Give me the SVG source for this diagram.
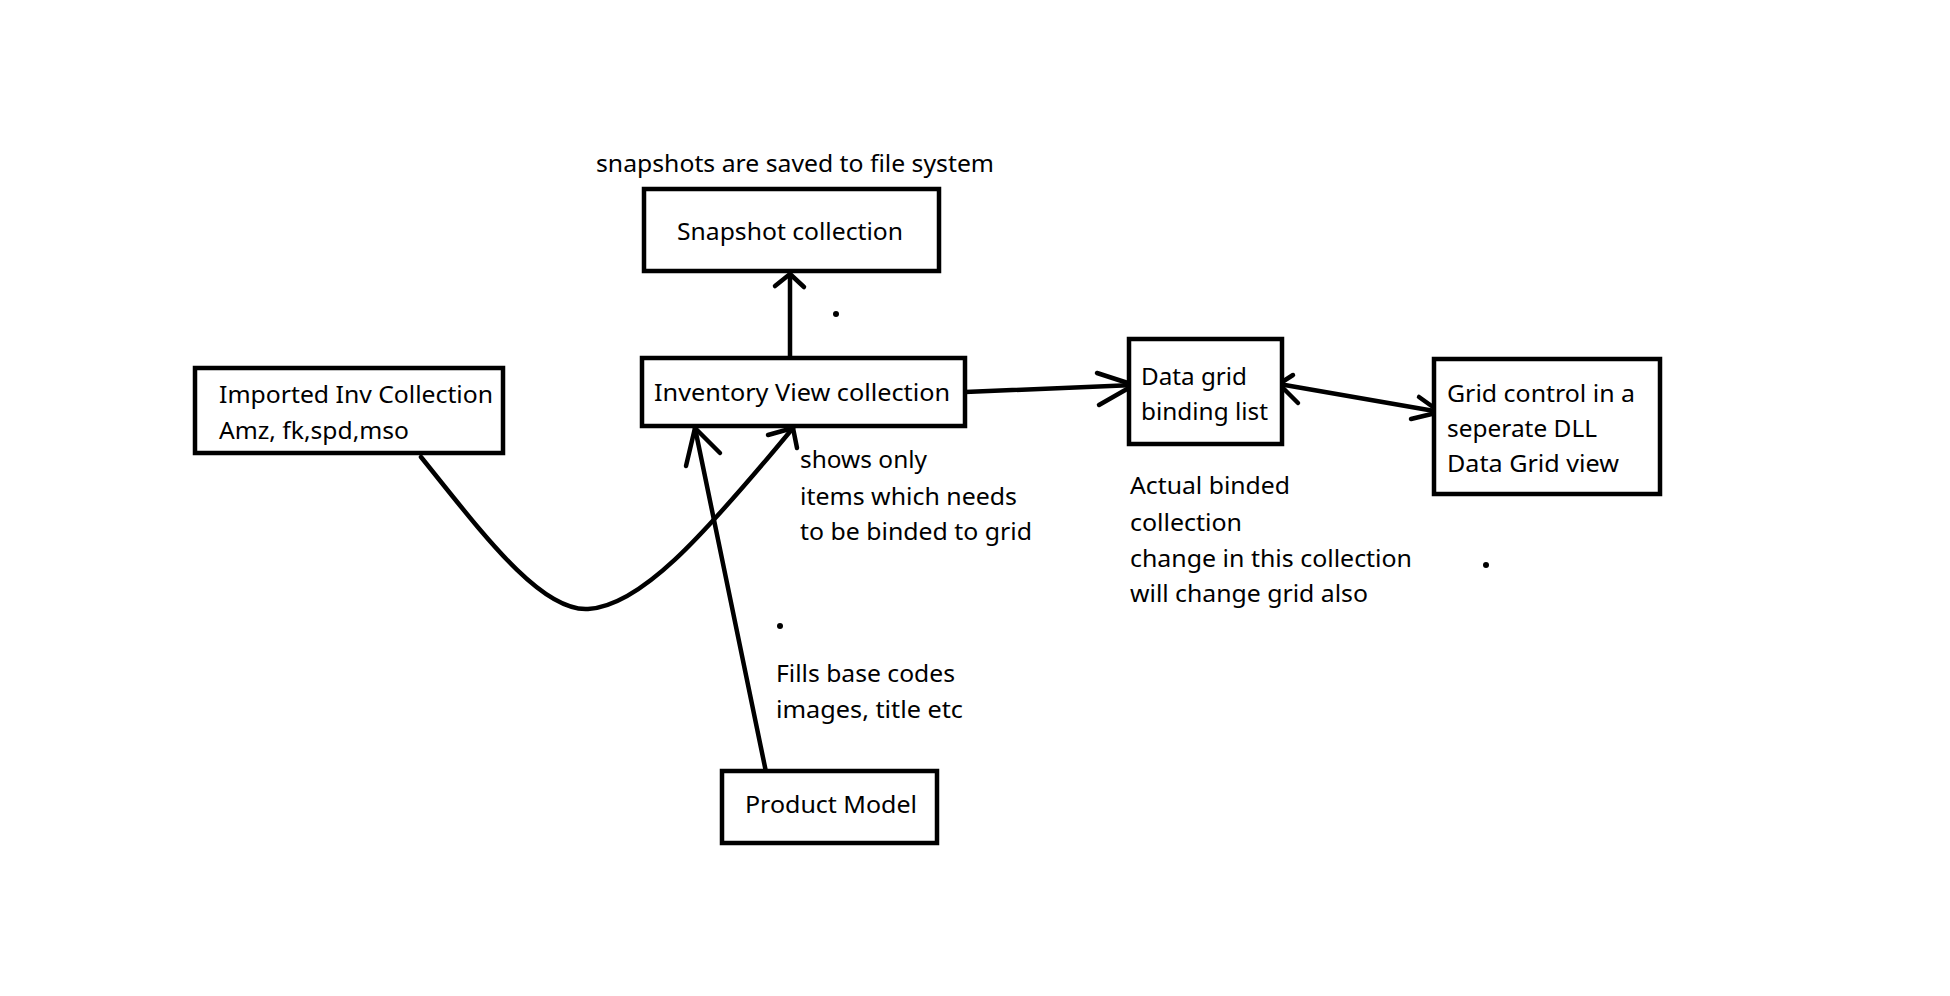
<svg xmlns="http://www.w3.org/2000/svg" width="1950" height="996" viewBox="0 0 1950 996">
<style>
.box{fill:#fff;stroke:#000;stroke-width:4.5}
.t{font-family:"Noto Sans","Open Sans",sans-serif;font-size:24px;fill:#000}
.c{fill:none;stroke:#000;stroke-width:4.5;stroke-linecap:round;stroke-linejoin:round}
</style>
<rect width="1950" height="996" fill="#fff"/>
<g id="connectors">
<path class="c" d="M790,357 L790,273"/>
<polyline class="c" points="775,286 790,274 804,287"/>
<path class="c" d="M965,392 L1134,385"/>
<polyline class="c" points="1097,373 1134,385 1099,405"/>
<path class="c" d="M1279,384 L1440,412"/>
<polyline class="c" points="1293,375 1279,384 1298,403"/>
<polyline class="c" points="1419,397 1440,412 1411,419"/>
<path class="c" d="M421,457 C480,530 540,612 588,609 C640,606 700,540 793,428"/>
<polyline class="c" points="768,435 793,428 797,448"/>
<path class="c" d="M766,772 L695,428"/>
<polyline class="c" points="686,466 695,428 720,453"/>
</g>
<g id="snapshot-note"><text class="t" x="596" y="172" textLength="398" lengthAdjust="spacingAndGlyphs">snapshots are saved to file system</text></g>
<g id="snapshot"><rect class="box" x="644" y="189" width="295" height="82"/><text class="t" x="677" y="240" textLength="226" lengthAdjust="spacingAndGlyphs">Snapshot collection</text></g>
<g id="inventory"><rect class="box" x="642" y="358" width="323" height="68"/><text class="t" x="654" y="401" textLength="296" lengthAdjust="spacingAndGlyphs">Inventory View collection</text></g>
<g id="imported"><rect class="box" x="195" y="368" width="308" height="85"/><text class="t" x="219" y="403" textLength="274" lengthAdjust="spacingAndGlyphs">Imported Inv Collection</text><text class="t" x="219" y="439" textLength="190" lengthAdjust="spacingAndGlyphs">Amz, fk,spd,mso</text></g>
<g id="datagrid"><rect class="box" x="1129" y="339" width="153" height="105"/><text class="t" x="1141" y="385" textLength="106" lengthAdjust="spacingAndGlyphs">Data grid</text><text class="t" x="1141" y="420" textLength="127" lengthAdjust="spacingAndGlyphs">binding list</text></g>
<g id="gridcontrol"><rect class="box" x="1434" y="359" width="226" height="135"/><text class="t" x="1447" y="402" textLength="188" lengthAdjust="spacingAndGlyphs">Grid control in a</text><text class="t" x="1447" y="437" textLength="150" lengthAdjust="spacingAndGlyphs">seperate DLL</text><text class="t" x="1447" y="472" textLength="172" lengthAdjust="spacingAndGlyphs">Data Grid view</text></g>
<g id="product"><rect class="box" x="722" y="771" width="215" height="72"/><text class="t" x="745" y="813" textLength="172" lengthAdjust="spacingAndGlyphs">Product Model</text></g>
<g id="shows-note"><text class="t" x="800" y="468" textLength="127" lengthAdjust="spacingAndGlyphs">shows only</text><text class="t" x="800" y="505" textLength="217" lengthAdjust="spacingAndGlyphs">items which needs</text><text class="t" x="800" y="540" textLength="232" lengthAdjust="spacingAndGlyphs">to be binded to grid</text></g>
<g id="fills-note"><text class="t" x="776" y="682" textLength="179" lengthAdjust="spacingAndGlyphs">Fills base codes</text><text class="t" x="776" y="718" textLength="187" lengthAdjust="spacingAndGlyphs">images, title etc</text></g>
<g id="actual-note"><text class="t" x="1130" y="494" textLength="160" lengthAdjust="spacingAndGlyphs">Actual binded</text><text class="t" x="1130" y="531" textLength="112" lengthAdjust="spacingAndGlyphs">collection</text><text class="t" x="1130" y="567" textLength="282" lengthAdjust="spacingAndGlyphs">change in this collection</text><text class="t" x="1130" y="602" textLength="238" lengthAdjust="spacingAndGlyphs">will change grid also</text></g>
<g id="dots"><circle cx="836" cy="314" r="3"/><circle cx="780" cy="626" r="3"/><circle cx="1486" cy="565" r="3"/></g>
</svg>
